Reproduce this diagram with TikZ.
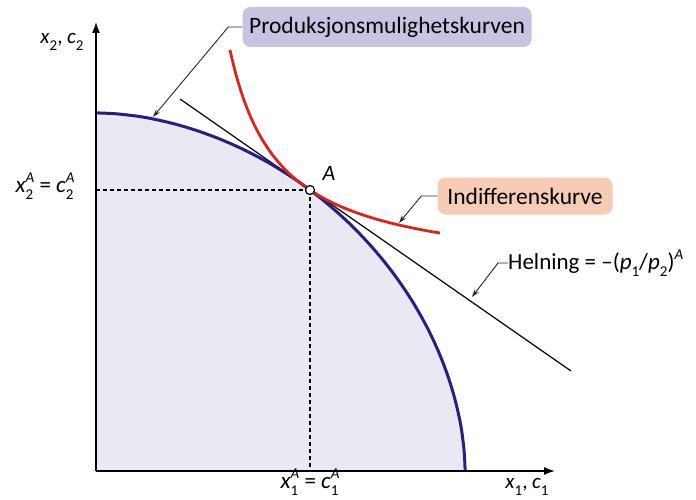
\documentclass[tikz,border=0pt]{standalone}
\usepackage{fontspec}
\setmainfont{Carlito}
\usetikzlibrary{arrows.meta}
\definecolor{ppfblue}{HTML}{2A1F7E}
\definecolor{icred}{HTML}{D7261E}
\definecolor{regfill}{HTML}{E9E9F4}
\definecolor{boxA}{HTML}{C9C3E1}
\definecolor{boxB}{HTML}{F6CDB3}
\newcommand\smallidx{\fontsize{15}{15}\selectfont}
\newcommand\lsub[1]{\raisebox{-0.3em}{\smallidx #1}}
\newcommand\lsup[1]{\raisebox{0.45em}{\smallidx\itshape #1}}
\newcommand\ssub[3]{\textit{#1}\rlap{\lsup{#2}}\rlap{\lsub{#3}}\phantom{\smallidx\itshape #2}}
\begin{document}
\begin{tikzpicture}[x=1pt,y=-1pt,
  axisline/.style={line width=1.5pt,-{Latex[length=11pt,width=8pt]}},
  leader/.style={line width=0.9pt,draw=black!85,-{Stealth[length=8pt,width=5pt]}},
  callout/.style={rounded corners=8pt,inner sep=0pt,font=\fontsize{23.5}{25}\selectfont},
  lab/.style={inner sep=0pt,font=\fontsize{22}{24}\selectfont},
  guide/.style={line width=1.1pt,dash pattern=on 4pt off 3pt}]
\useasboundingbox (0,0) rectangle (696,500);
\fill[white] (0,0) rectangle (696,500);
% region
\fill[regfill] (96,471) -- plot[domain=0:90,samples=120]
  ({96+369*pow(max(cos(\x),0.00001),1.075)},{471-358*pow(max(sin(\x),0.00001),1.075)}) -- cycle;
% guides
\coordinate (A) at (310,190);
\draw[guide] (96,190) -- (A);
\draw[guide] (A) -- (310,471);
% tangent line
\coordinate (tanS) at (180,99);
\coordinate (tanE) at (571,371);
\draw[line width=1.2pt] (tanS) -- (tanE);
% PPF
\draw[ppfblue,line width=3pt] plot[domain=0:90,samples=120]
  ({96+369*pow(max(cos(\x),0.00001),1.075)},{471-358*pow(max(sin(\x),0.00001),1.075)});
% indifference curve
\draw[icred,line width=2.8pt] plot[domain=230:440,samples=80] (\x,{275.75-11062/(\x-181)});
% axes
\coordinate (O) at (96,471);
\coordinate (ytip) at (96,22);
\coordinate (xtip) at (555,471);
\draw[axisline] (O) -- (ytip);
\draw[axisline] (O) -- (xtip);
% point A
\node[circle,draw,fill=white,line width=1.2pt,minimum size=9pt,inner sep=0pt] (Apt) at (A) {};
\node[lab] (Alab) at (329,173) {\textit{A}};
% axis labels
\node[lab,font=\fontsize{21}{23}\selectfont] (ylab) at (62,42) {\textit{x}\lsub{2}, \textit{c}\lsub{2}};
\node[lab,font=\fontsize{21}{23}\selectfont] (xlab) at (527,487) {\textit{x}\lsub{1}, \textit{c}\lsub{1}};
\node[lab,font=\fontsize{23}{25}\selectfont] (x2lab) at (45,186) {\ssub{x}{A}{2} = \ssub{c}{A}{2}};
\node[lab,font=\fontsize{23}{25}\selectfont] (x1lab) at (310,482) {\ssub{x}{A}{1} = \ssub{c}{A}{1}};
% callouts
\node[callout,fill=boxA,minimum width=289pt,minimum height=40pt] (ppfbox) at (387,27) {Produksjonsmulighetskurven};
\node[callout,fill=boxB,minimum width=175pt,minimum height=37pt] (icbox) at (525,196) {Indifferenskurve};
\node[lab,font=\fontsize{23}{25}\selectfont,anchor=west] (slope) at (508,263) {Helning = --(\textit{p}\lsub{1}/\textit{p}\lsub{2})\lsup{A}};
% leaders
\coordinate (ppftip) at (153,117);
\coordinate (ictip) at (399,223);
\coordinate (slopetip) at (472,297);
\draw[leader] (ppfbox.west) -- ++(-14,0) -- (ppftip);
\draw[leader] (icbox.west) -- ++(-16,0) -- (ictip);
\draw[leader] (slope.west) -- ++(-10,0) -- (slopetip);
\end{tikzpicture}
\end{document}
